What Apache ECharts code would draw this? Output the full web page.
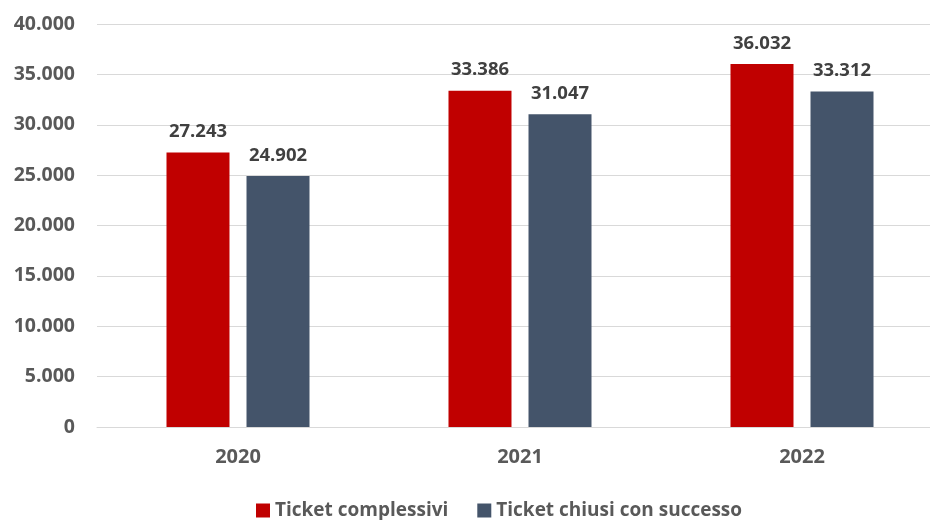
<!DOCTYPE html>
<html><head><meta charset="utf-8">
<script src="https://cdn.jsdelivr.net/npm/echarts@6/dist/echarts.min.js"></script>
<style>html,body{margin:0;padding:0;background:#fff;overflow:hidden;width:930px;height:520px}#c{width:943px;height:520px}</style>
</head><body><div id="c"></div>
<script>
const categories = ['2020', '2021', '2022'];
const seriesNames = ['Ticket complessivi', 'Ticket chiusi con successo'];
const totalTickets = [27243, 33386, 36032];
const closedTickets = [24902, 31047, 33312];
const yTicks = [0, 5000, 10000, 15000, 20000, 25000, 30000, 35000, 40000];

const fmt = v => String(v).replace(/\B(?=(\d{3})+(?!\d))/g, '.');
const FONT = '"Open Sans", "DejaVu Sans", sans-serif';
const chart = echarts.init(document.getElementById('c'));
chart.setOption({
  animation: false,
  textStyle: { fontFamily: FONT },
  grid: { left: 97, top: 24, right: 0, height: 403, containLabel: false },
  legend: {
    top: 496, left: 251, itemWidth: 14, itemHeight: 14, itemGap: 29,
    icon: 'rect',
    textStyle: { fontFamily: FONT, fontSize: 19, fontWeight: 'bold', color: '#595959' },
    data: seriesNames
  },
  xAxis: {
    type: 'category', data: categories,
    axisLine: { lineStyle: { color: '#D9D9D9', width: 1 } },
    axisTick: { show: false },
    axisLabel: { fontFamily: FONT, fontSize: 20, fontWeight: 'bold', color: '#595959', margin: 20 }
  },
  yAxis: {
    type: 'value', min: yTicks[0], max: yTicks[yTicks.length - 1], interval: 5000,
    axisLine: { show: false }, axisTick: { show: false },
    splitLine: { lineStyle: { color: '#D9D9D9', width: 1 } },
    axisLabel: { fontFamily: FONT, fontSize: 19.5, fontWeight: 'bold', color: '#595959', margin: 22, formatter: fmt }
  },
  series: [
    { name: seriesNames[0], type: 'bar', data: totalTickets, barWidth: 63, barGap: '27%',
      itemStyle: { color: '#C00000' },
      label: { show: true, position: 'top', distance: 11, formatter: p => fmt(p.value),
        fontFamily: FONT, fontSize: 18.5, fontWeight: 'bold', color: '#404040' } },
    { name: seriesNames[1], type: 'bar', data: closedTickets, barWidth: 63,
      itemStyle: { color: '#44546A' },
      label: { show: true, position: 'top', distance: 11, formatter: p => fmt(p.value),
        fontFamily: FONT, fontSize: 18.5, fontWeight: 'bold', color: '#404040' } }
  ]
});
</script></body></html>
